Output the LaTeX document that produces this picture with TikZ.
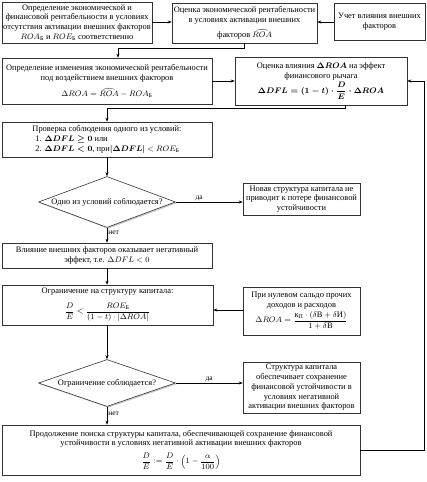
\documentclass[tikz,border=0pt]{standalone}
\usepackage{amsmath}
\usepackage{fontspec}
\setmainfont{Liberation Serif}
\usetikzlibrary{shapes.geometric,arrows.meta,shadows,calc}
\begin{document}
\begin{tikzpicture}[x=1pt,y=-1pt,
  font=\fontsize{8.4}{9.8}\selectfont,
  shadowed/.style={drop shadow={shadow xshift=1.3pt, shadow yshift=-1.3pt, fill=black!45, opacity=0.45}},
  box/.style={rectangle, draw=black!80, line width=0.6pt, fill=white, align=center, inner sep=1pt, shadowed},
  dia/.style={diamond, draw=black!80, line width=0.6pt, fill=white, align=center, inner sep=0pt, aspect=2.7, shadowed},
  arr/.style={-{Stealth[length=4pt,width=3pt]}, line width=0.5pt},
  lab/.style={font=\fontsize{7.5}{8}\selectfont, inner sep=1pt}
]
\useasboundingbox (0,0) rectangle (427,482);

\node[box, minimum width=150pt, minimum height=41pt] (A) at (77,22.5)
  {Определение экономической и\\ финансовой рентабельности в условиях\\ отсутствия активации внешних факторов\\ $ROA_{\text{Б}}$ и $ROE_{\text{Б}}$ соответственно};
\node[box, minimum width=145pt, minimum height=40pt] (B) at (244.5,23)
  {Оценка экономической рентабельности\\ в условиях активации внешних\\[5pt] факторов $\widehat{ROA}$};
\node[box, minimum width=91pt, minimum height=37pt] (C) at (379.5,21.5)
  {Учет влияния внешних\\ факторов};
\node[box, minimum width=210pt, minimum height=46pt] (D) at (107,81)
  {Определение изменения экономической рентабельности\\ под воздействием внешних факторов\\[5pt] $\Delta ROA = \widehat{ROA} - ROA_{\text{Б}}$};
\node[box, minimum width=172pt, minimum height=48pt] (E) at (321,81)
  {Оценка влияния {\boldmath$\Delta ROA$} на эффект\\ финансового рычага\\[1pt] {\boldmath$\Delta DFL = (1-t)\cdot\dfrac{D}{E}\cdot\Delta ROA$}};
\node[box, minimum width=210pt, minimum height=35pt, align=left] (F) at (107,139.5)
  {Проверка соблюдения одного из условий:\\ \hspace*{3pt}1. {\boldmath$\Delta DFL \geq 0$} или\\ \hspace*{3pt}2. {\boldmath$\Delta DFL < 0$}, при{\boldmath$|\Delta DFL|$} $<ROE_{\text{Б}}$};
\node[dia, minimum width=137pt, minimum height=51pt] (Q1) at (107,202)
  {Одно из условий соблюдается?};
\node[box, minimum width=117pt, minimum height=32pt] (H) at (301.5,199)
  {Новая структура капитала не\\ приводит к потере финансовой\\ устойчивости};
\node[box, minimum width=210pt, minimum height=25pt] (G) at (107,255.5)
  {Влияние внешних факторов оказывает негативный\\ эффект, т.е. $\Delta DFL < 0$};
\node[box, minimum width=211pt, minimum height=40pt] (I) at (107.5,305)
  {Ограничение на структуру капитала:\\[6pt] $\dfrac{D}{E} < \dfrac{ROE_{\text{Б}}}{(1-t)\cdot|\Delta ROA|}$};
\node[box, minimum width=117pt, minimum height=48pt] (J) at (301.5,311)
  {При нулевом сальдо прочих\\ доходов и расходов\\[1pt] $\Delta ROA = \dfrac{\text{к}_{\text{П}}\cdot(\delta\text{В}+\delta\text{И})}{1+\delta\text{В}}$};
\node[dia, minimum width=137pt, minimum height=47pt] (Q2) at (107,383)
  {Ограничение соблюдается?};
\node[box, minimum width=117pt, minimum height=51pt] (K) at (301.5,387.5)
  {Структура капитала\\ обеспечивает сохранение\\ финансовой устойчивости в\\ условиях негативной\\ активации внешних факторов};
\node[box, minimum width=358pt, minimum height=50pt] (L) at (181,450)
  {Продолжение поиска структуры капитала, обеспечивающей сохранение финансовой\\ устойчивости в условиях негативной активации внешних факторов\\[4pt] $\dfrac{D}{E} := \dfrac{D}{E}\cdot\left(1-\dfrac{\alpha}{100}\right)$};

\coordinate (bd) at (118,48);
\coordinate (ef) at (107,108);
\coordinate (rt) at (424,450);

\draw[arr] (A.east |- 0,22) -- (B.west |- 0,22);
\draw[arr] (C.west |- 0,22) -- (B.east |- 0,22);
\draw[arr] (B.south) -- (B.south |- bd) -- (bd) -- (bd |- D.north);
\draw[arr] (D.east) -- (E.west);
\draw[arr] ([xshift=24pt]E.south) -- ([xshift=24pt]E.south |- ef) -- (ef) -- (F.north);
\draw[arr] (F.south) -- (Q1.north);
\draw[arr] (Q1.east) -- node[lab, above, pos=0.35] {да} (Q1.east -| H.west);
\draw[arr] (Q1.south) -- node[lab, right, pos=0.35] {нет} (G.north);
\draw[arr] (G.south) -- (G.south |- I.north);
\draw[arr] (J.west |- 0,310) -- (I.east |- 0,310);
\draw[arr] (I.south -| Q2.north) -- (Q2.north);
\draw[arr] (Q2.east) -- node[lab, above, pos=0.5] {да} (Q2.east -| K.west);
\draw[arr] (Q2.south) -- node[lab, right, pos=0.4] {нет} (Q2.south |- L.north);
\draw[arr] (L.east |- rt) -- (rt) -- (rt |- E.east) -- (E.east);
\end{tikzpicture}
\end{document}
